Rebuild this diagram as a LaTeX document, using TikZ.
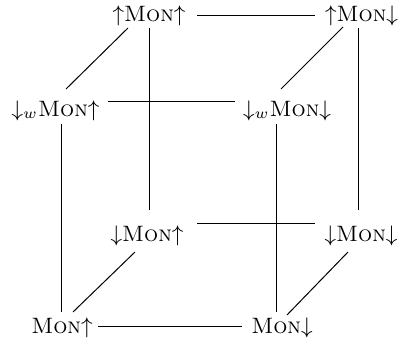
\documentclass[tikz,border=0pt]{standalone}
\begin{document}
\begin{tikzpicture}[x=0.4pt,y=-0.4pt,
  obj/.style={anchor=base,inner sep=0pt,outer sep=0pt,font=\fontsize{8.9}{10.7}\selectfont},
  edge/.style={line width=0.4pt}]
\useasboundingbox (0,0) rectangle (401,346);
\node[obj] (a) at (149,22) {$\uparrow$\textsc{Mon}$\uparrow$};
\node[obj] (b) at (361.5,22) {$\uparrow$\textsc{Mon}$\downarrow$};
\node[obj] (c) at (55.5,116.5) {$\downarrow_w$\textsc{Mon}$\uparrow$};
\node[obj] (d) at (287,116.5) {$\downarrow_w$\textsc{Mon}$\downarrow$};
\node[obj] (e) at (147,242) {$\downarrow$\textsc{Mon}$\uparrow$};
\node[obj] (f) at (361,242) {$\downarrow$\textsc{Mon}$\downarrow$};
\node[obj] (g) at (62,334) {\textsc{Mon}$\uparrow$};
\node[obj] (h) at (282,334) {\textsc{Mon}$\downarrow$};
% horizontals
\draw[edge] ([shift={(48,-6)}]a.base) -- ([shift={(-46.5,-6)}]b.base);
\draw[edge] ([shift={(52.5,-14.5)}]c.base) -- ([shift={(-52,-14.5)}]d.base);
\draw[edge] ([shift={(50,-18)}]e.base) -- ([shift={(-46,-18)}]f.base);
\draw[edge] ([shift={(36,-7)}]g.base) -- ([shift={(-40,-7)}]h.base);
% diagonals
\draw[edge] ([shift={(-21,6)}]a.base) -- ([shift={(10.5,-27.5)}]c.base);
\draw[edge] ([shift={(-18.5,5)}]b.base) -- ([shift={(-6,-27.5)}]d.base);
\draw[edge] ([shift={(-12,10)}]e.base) -- ([shift={(11,-22)}]g.base);
\draw[edge] ([shift={(-13,10)}]f.base) -- ([shift={(5,-19)}]h.base);
% verticals
\draw[edge] ([shift={(0,6)}]a.base) -- ([shift={(2,-32)}]e.base);
\draw[edge] ([shift={(-3.5,6)}]b.base) -- ([shift={(-3,-32)}]f.base);
\draw[edge] ([shift={(5.5,7.5)}]c.base) -- ([shift={(-1,-22)}]g.base);
\draw[edge] ([shift={(-11,7.5)}]d.base) -- ([shift={(-6,-22)}]h.base);
\end{tikzpicture}
\end{document}
